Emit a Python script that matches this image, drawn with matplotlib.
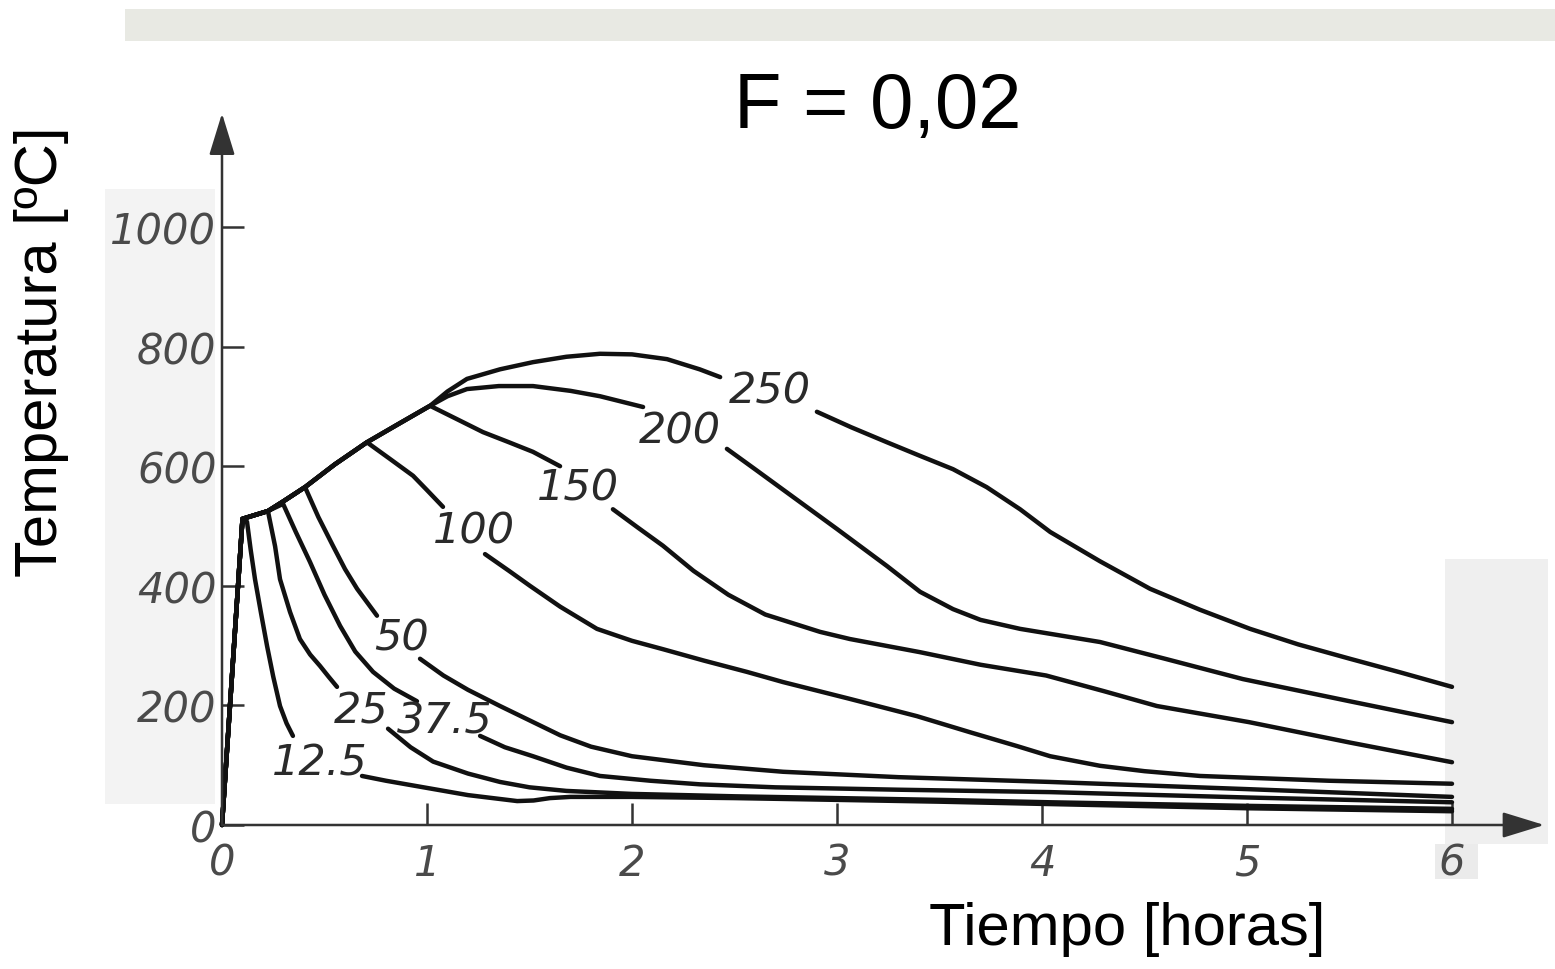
import numpy as np
import matplotlib.pyplot as plt
from matplotlib.patches import Rectangle

nan = np.nan

# cooling curves, time [h] vs temperature [C]; nan leaves room for the curve label
t_12_5 = [0, 0.10, 0.122, 0.14, 0.161, 0.19, 0.22, 0.25, 0.283, 0.315, 0.346, nan,
          0.683, 0.8, 0.95, 1.2, 1.44, 1.52, 1.6, 1.7, 2.0, 2.5, 3.5, 4.04, 5.0, 6.0]
T_12_5 = [0, 512, 507, 460, 411, 355, 299, 248, 199, 170, 149, nan,
          82, 74, 65, 50, 40, 41, 45, 47, 47, 45, 39, 35, 28, 23]

t_25 = [0, 0.10, 0.224, 0.259, 0.283, 0.332, 0.38, 0.43, 0.478, 0.52, 0.561, nan,
        0.81, 0.92, 1.03, 1.2, 1.356, 1.5, 1.68, 2.0, 2.5, 3.5, 4.04, 5.0, 6.0]
T_25 = [0, 512, 525, 466, 411, 356, 311, 285, 266, 248, 231, nan,
        161, 130, 106, 86, 72, 63, 57, 52, 48, 42, 38, 32, 27]

t_37_5 = [0, 0.10, 0.224, 0.298, 0.36, 0.429, 0.5, 0.576, 0.65, 0.737, 0.84, 0.951, nan,
          1.259, 1.38, 1.517, 1.68, 1.844, 2.09, 2.332, 2.7, 3.3, 4.04, 5.0, 6.0]
T_37_5 = [0, 512, 525, 537, 490, 440, 385, 333, 290, 256, 228, 207, nan,
          149, 130, 115, 96, 82, 74, 68, 63, 59, 55, 46, 38]

t_50 = [0, 0.10, 0.224, 0.298, 0.405, 0.47, 0.541, 0.6, 0.659, 0.756, nan,
        0.966, 1.08, 1.2, 1.356, 1.5, 1.65, 1.8, 2.0, 2.35, 2.737, 3.3, 4.04, 5.0, 6.0]
T_50 = [0, 512, 525, 541, 565, 515, 467, 428, 395, 350, nan,
        278, 250, 226, 199, 175, 150, 131, 115, 100, 89, 80, 72, 60, 47]

t_100 = [0, 0.10, 0.224, 0.298, 0.405, 0.55, 0.707, 0.82, 0.932, 1.0, 1.078, nan,
         1.283, 1.4, 1.502, 1.65, 1.829, 2.0, 2.151, 2.35, 2.561, 2.737, 3.05, 3.39, 3.65,
         3.878, 4.04, 4.283, 4.5, 4.771, 5.4, 6.0]
T_100 = [0, 512, 525, 541, 565, 603, 640, 612, 584, 560, 532, nan,
         453, 425, 400, 365, 328, 308, 294, 275, 256, 239, 212, 182, 155,
         132, 115, 99, 90, 82, 74, 69]

t_150 = [0, 0.10, 0.224, 0.298, 0.405, 0.55, 0.707, 0.868, 1.015, 1.15, 1.273, 1.4, 1.517, 1.649, nan,
         1.907, 2.03, 2.151, 2.3, 2.47, 2.65, 2.917, 3.063, 3.405, 3.7, 4.02, 4.3, 4.56, 5.01, 5.5, 6.0]
T_150 = [0, 512, 525, 541, 565, 603, 640, 672, 701, 678, 657, 640, 624, 600, nan,
         528, 497, 467, 425, 385, 352, 323, 311, 289, 268, 250, 224, 199, 172, 138, 105]

t_200 = [0, 0.10, 0.224, 0.298, 0.405, 0.55, 0.707, 0.868, 1.015, 1.1, 1.195, 1.35, 1.517, 1.7, 1.844, 2.054, nan,
         2.463, 2.6, 2.756, 3.0, 3.244, 3.405, 3.566, 3.7, 3.893, 4.283, 4.6, 4.98, 5.5, 6.0]
T_200 = [0, 512, 525, 541, 565, 603, 640, 672, 701, 717, 729, 734, 734, 726, 717, 699, nan,
         629, 595, 556, 495, 433, 390, 361, 343, 328, 306, 278, 244, 207, 172]

t_250 = [0, 0.10, 0.224, 0.298, 0.405, 0.55, 0.707, 0.868, 1.015, 1.1, 1.195, 1.356, 1.517, 1.68, 1.844,
         2.0, 2.171, 2.33, 2.43, nan,
         2.902, 3.07, 3.244, 3.4, 3.566, 3.73, 3.893, 4.04, 4.283, 4.527, 4.77, 5.015, 5.25, 5.502, 5.75, 6.0]
T_250 = [0, 512, 525, 541, 565, 603, 640, 672, 701, 725, 746, 762, 774, 783, 788,
         787, 779, 762, 749, nan,
         691, 665, 640, 618, 595, 565, 528, 490, 441, 395, 360, 328, 302, 278, 255, 231]

curves = [(t_12_5, T_12_5), (t_25, T_25), (t_37_5, T_37_5), (t_50, T_50),
          (t_100, T_100), (t_150, T_150), (t_200, T_200), (t_250, T_250)]

# curve labels and where they sit
labels = ['12.5', '25', '37.5', '50', '100', '150', '200', '250']
label_t = [0.478, 0.678, 1.088, 0.878, 1.229, 1.737, 2.234, 2.673]
label_T = [105, 191, 174, 314, 492, 565, 659, 726]

x_ticks = [0, 1, 2, 3, 4, 5, 6]
y_ticks = [0, 200, 400, 600, 800, 1000]

fig = plt.figure(figsize=(15.55, 9.7), dpi=100)


def sheet(x0, y0, x1, y1, color):
    # pale patch of the scanned page, given in pixels from the top left
    fig.patches.append(Rectangle((x0 / 1555, 1 - y1 / 970), (x1 - x0) / 1555, (y1 - y0) / 970,
                                 transform=fig.transFigure, color=color, lw=0, zorder=-10))


sheet(125, 10, 1555, 42, '#e8e9e3')
sheet(105, 190, 215, 805, '#f3f3f3')
sheet(1445, 560, 1548, 845, '#efefef')
sheet(1435, 845, 1478, 880, '#ebebeb')

ax = fig.add_axes([222 / 1555, 144 / 970, 6.45 * 205 / 1555, 1190 * 0.598 / 970])
ax.set_xlim(0, 6.45)
ax.set_ylim(0, 1190)
ax.patch.set_alpha(0)
for s in ax.spines.values():
    s.set_visible(False)

ax.set_xticks(x_ticks)
ax.set_xticklabels([str(v) for v in x_ticks])
ax.set_yticks(y_ticks)
ax.set_yticklabels([str(v) for v in y_ticks])
ax.tick_params(axis='both', direction='in', length=16, width=1.8, color='#333333',
               labelsize=30, labelcolor='#4a4a4a')
ax.tick_params(axis='x', pad=12)
ax.tick_params(axis='y', pad=4)
for lab in ax.get_xticklabels() + ax.get_yticklabels():
    lab.set_fontstyle('italic')
    lab.set_family('DejaVu Sans')

# axes with arrow heads
arrow = dict(arrowstyle='-|>,head_length=1.3,head_width=0.4', lw=1.8, color='#333333',
             shrinkA=0, shrinkB=0, mutation_scale=20)
ax.annotate('', xy=(0, 1190), xytext=(0, 0), arrowprops=arrow, annotation_clip=False)
ax.annotate('', xy=(6.45, 0), xytext=(0, 0), arrowprops=arrow, annotation_clip=False)

for t, T in curves:
    ax.plot(t, T, color='#111111', lw=3.2, solid_capstyle='round',
            solid_joinstyle='round', clip_on=False)

for lab, t, T in zip(labels, label_t, label_T):
    ax.text(t, T, lab, ha='center', va='center', fontsize=31, style='italic',
            family='DejaVu Sans', color='#2a2a2a')

fig.text(878 / 1555, 1 - 108 / 970, 'F = 0,02', fontsize=56, family='Liberation Sans',
         ha='center', va='center')
fig.text(42 / 1555, 1 - 352 / 970, 'Temperatura [ºC]', fontsize=43, family='Liberation Sans',
         rotation=90, ha='center', va='center')
fig.text(1127 / 1555, 1 - 930 / 970, 'Tiempo [horas]', fontsize=43, family='Liberation Sans',
         ha='center', va='center')

fig.savefig('out.png', dpi=100)
